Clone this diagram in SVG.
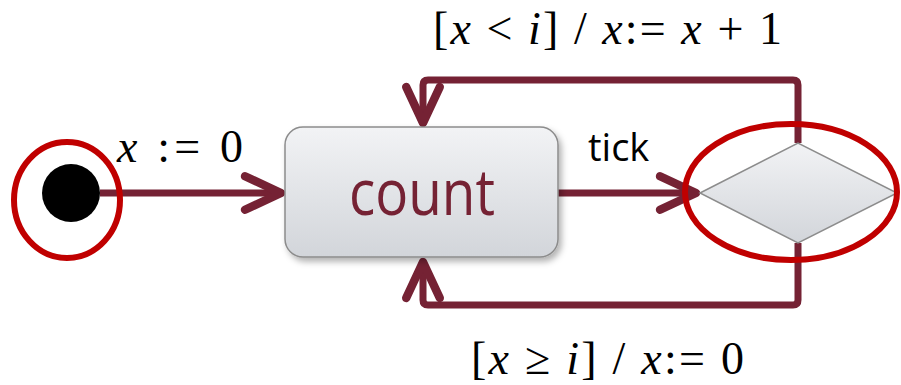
<svg xmlns="http://www.w3.org/2000/svg" width="901" height="385" viewBox="0 0 901 385">
<style>
.edge{fill:none;stroke:#752234;stroke-width:7;stroke-linejoin:round}
.hl{fill:none;stroke:#C00000;stroke-width:6}
.math{font-family:"Liberation Serif",serif;font-size:46px;fill:#000}
.it{font-style:italic}
.lbl{font-family:"Open Sans","Liberation Sans",sans-serif;fill:#000}
</style>
<defs>
<marker id="chev" markerUnits="userSpaceOnUse" markerWidth="60" markerHeight="60" viewBox="-40 -25 50 50" refX="0" refY="0" orient="auto">
<path d="M-30,-14 L0,0 L-30,14" fill="none" stroke="#752234" stroke-width="7" stroke-linecap="round" stroke-linejoin="round"/>
</marker>
<linearGradient id="g" x1="0" y1="0" x2="0" y2="1">
<stop offset="0" stop-color="#f2f3f5"/>
<stop offset="1" stop-color="#d2d5da"/>
</linearGradient>
<filter id="sh" x="-20%" y="-20%" width="140%" height="150%">
<feDropShadow dx="3" dy="4" stdDeviation="3" flood-color="#000" flood-opacity="0.3"/>
</filter>
</defs>
<g id="connectors">
<path class="edge" d="M100,193 H281" marker-end="url(#chev)"/>
<path class="edge" d="M558,193 H696" marker-end="url(#chev)"/>
<path class="edge" d="M798,143 V85 Q798,80 793,80 H428 Q423,80 423,85 V123" marker-end="url(#chev)"/>
<path class="edge" d="M798,243 V300 Q798,305 793,305 H428 Q423,305 423,300 V262" marker-end="url(#chev)"/>
</g>
<g id="label-init">
<text class="math" x="117" y="162" textLength="126" lengthAdjust="spacing"><tspan class="it">x</tspan> := 0</text>
</g>
<g id="label-tick">
<text class="lbl" x="588" y="161" font-size="38">tick</text>
</g>
<g id="label-loop">
<text class="math" x="433" y="44" textLength="349" lengthAdjust="spacing">[<tspan class="it">x</tspan> &lt; <tspan class="it">i</tspan>] / <tspan class="it">x</tspan>:= <tspan class="it">x</tspan> + 1</text>
</g>
<g id="label-reset">
<text class="math" x="471" y="374" textLength="273" lengthAdjust="spacing">[<tspan class="it">x</tspan> ≥ <tspan class="it">i</tspan>] / <tspan class="it">x</tspan>:= 0</text>
</g>
<g id="initial">
<circle cx="71" cy="193" r="29" fill="#000"/>
<ellipse class="hl" cx="67" cy="200" rx="53" ry="58"/>
</g>
<g id="count">
<rect x="285" y="127" width="273" height="130" rx="18" fill="url(#g)" stroke="#8c8c8c" stroke-width="1.5" filter="url(#sh)"/>
<text x="349" y="215" textLength="146" lengthAdjust="spacingAndGlyphs" font-family="Open Sans, Liberation Sans, sans-serif" font-size="64" fill="#752234">count</text>
</g>
<g id="choice">
<polygon points="700,193 798,143 897,193 798,243" fill="url(#g)" stroke="#8c8c8c" stroke-width="1.5"/>
<ellipse class="hl" cx="791" cy="192" rx="106" ry="68"/>
</g>
</svg>
